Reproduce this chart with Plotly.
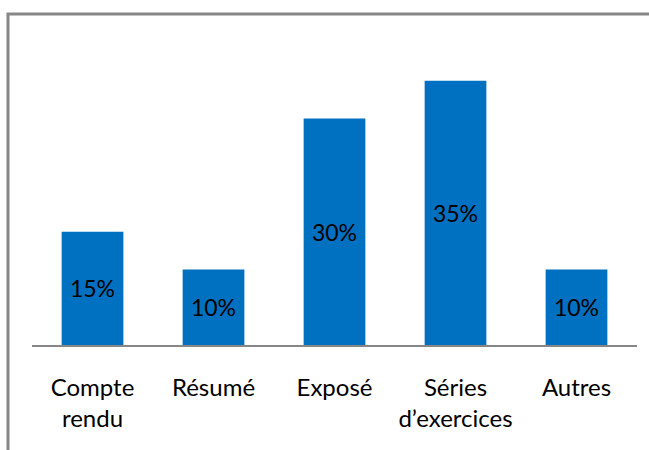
import plotly.graph_objects as go

# Répartition des types de travaux
categories = ["Compte<br>rendu", "Résumé", "Exposé", "Séries<br>d’exercices", "Autres"]
values = [0.15, 0.10, 0.30, 0.35, 0.10]

BAR_COLOR = "#0070C0"
LINE_COLOR = "#878787"
FONT = "Lato"

fig = go.Figure(
    go.Bar(
        x=categories,
        y=values,
        width=0.51,
        marker=dict(color=BAR_COLOR, line=dict(width=0)),
        texttemplate="%{y:.0%}",
        textposition="inside",
        insidetextanchor="middle",
        constraintext="none",
        textangle=0,
        textfont=dict(family=FONT, size=23, color="black"),
        hoverinfo="skip",
    )
)

fig.update_layout(
    width=649,
    height=450,
    margin=dict(l=32, r=12, t=43, b=105),
    paper_bgcolor="white",
    plot_bgcolor="white",
    showlegend=False,
    font=dict(family=FONT, size=24, color="black"),
    xaxis=dict(
        showline=True,
        linecolor=LINE_COLOR,
        linewidth=2,
        ticks="",
        showgrid=False,
        tickfont=dict(family=FONT, size=24, color="black"),
        ticklabelstandoff=20,
    ),
    yaxis=dict(
        range=[0, 0.40],
        visible=False,
        showgrid=False,
        zeroline=False,
    ),
    shapes=[
        # cadre du graphique
        dict(
            type="rect",
            xref="paper",
            yref="paper",
            x0=-0.0397,
            x1=1.1,
            y0=-0.6,
            y1=1.096,
            line=dict(color=LINE_COLOR, width=3),
            fillcolor="rgba(0,0,0,0)",
            layer="below",
        )
    ],
)

fig.write_html("out.html")
